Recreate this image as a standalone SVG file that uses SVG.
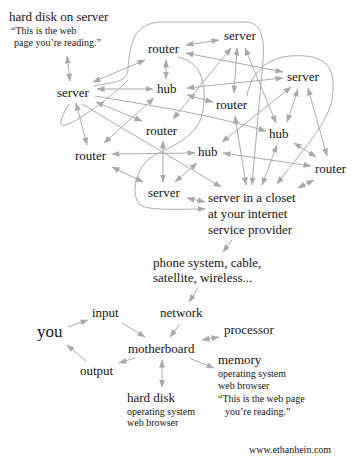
<svg xmlns="http://www.w3.org/2000/svg" width="362" height="467" viewBox="0 0 362 467">
<defs>
<marker id="ah" markerUnits="userSpaceOnUse" markerWidth="8" markerHeight="6" refX="7.5" refY="3" orient="auto-start-reverse"><path d="M0,0 L8,3 L0,6 z" fill="#a9a9a9"/></marker>
</defs>
<style>
text{font-family:"Liberation Serif","Times New Roman",serif;fill:#151515}
.n{font-size:13px}
.s{font-size:10px}
.b{font-size:17px}
.c path{fill:none;stroke:#ababab;stroke-width:1}
.d{marker-start:url(#ah);marker-end:url(#ah)}
.e{marker-end:url(#ah)}
</style>
<rect width="362" height="467" fill="#fff"/>
<g class="c" id="connectors">
<path class="d" d="M67,56 L70,81"/>
<path class="d" d="M93,82 L145,60"/>
<path class="d" d="M97,89 L153,89"/>
<path class="d" d="M166,60 L166,79"/>
<path class="d" d="M186,45 L219,40"/>
<path class="d" d="M186,53 L283,72"/>
<path class="d" d="M187,88 L283,78"/>
<path class="d" d="M187,95 L213,102"/>
<path class="d" d="M96,102 L142,121"/>
<path class="d" d="M76,103 L87,145"/>
<path class="d" d="M154,98 L104,143"/>
<path class="d" d="M231,48 L173,119"/>
<path class="d" d="M237,48 L234,93"/>
<path class="d" d="M245,48 L276,123"/>
<path class="d" d="M298,89 L287,122"/>
<path class="d" d="M308,88 L327,156"/>
<path class="d" d="M291,87 L222,142"/>
<path class="d" d="M235,116 L246,185"/>
<path class="d" d="M277,145 L262,185"/>
<path class="d" d="M294,143 L316,157"/>
<path class="d" d="M223,153 L311,166"/>
<path class="d" d="M298,188 L314,180"/>
<path class="d" d="M112,154 L195,153"/>
<path class="d" d="M163,141 L163,182"/>
<path class="d" d="M112,167 L143,182"/>
<path class="d" d="M175,182 L197,163"/>
<path class="d" d="M187,198 L205,202"/>
<path class="e" d="M82,104 L221,187"/>
<path class="e" d="M95,96 C140,104 200,112 266,131"/>
<path class="e" d="M94,86 C110,82 126,84 128,70 C130,40 135,24 160,22 L245,22 C260,22 265,35 263,60 L252,185"/>
<path d="M69,104 C60,118 58,128 66,125 C80,120 110,98 128,80"/>
<path class="e" d="M247,96 C250,75 265,58 290,56 C320,54 335,62 333,90 C332,120 310,140 277,184"/>
<path class="e" d="M178,57 C200,62 207,80 203,110 C200,135 175,145 155,155 C135,165 130,195 140,205 C150,211 180,209 205,209"/>
<path class="e" d="M232,240 L223,252"/>
<path class="e" d="M198,288 L189,302"/>
<path class="e" d="M68,327 L88,320"/>
<path class="e" d="M122,323 L145,337"/>
<path class="e" d="M180,324 L170,337"/>
<path class="d" d="M202,340 L219,337"/>
<path class="e" d="M189,358 L214,368"/>
<path class="e" d="M135,358 L119,363"/>
<path class="e" d="M86,361 L67,345"/>
<path class="d" d="M162,360 L162,387"/>
</g>
<g id="hd_server"><text class="n" x="9" y="21">hard disk on server</text><text class="s" x="11" y="34">“This is the web</text><text class="s" x="14" y="46">page you’re reading.”</text></g>
<g id="s1"><text class="n" x="57" y="97">server</text></g>
<g id="r1"><text class="n" x="148" y="53">router</text></g>
<g id="h1"><text class="n" x="157" y="93">hub</text></g>
<g id="s2"><text class="n" x="224" y="40">server</text></g>
<g id="s3"><text class="n" x="287" y="81">server</text></g>
<g id="r2"><text class="n" x="216" y="109">router</text></g>
<g id="r3"><text class="n" x="146" y="135">router</text></g>
<g id="r4"><text class="n" x="75" y="160">router</text></g>
<g id="h2"><text class="n" x="198" y="156">hub</text></g>
<g id="h3"><text class="n" x="269" y="138">hub</text></g>
<g id="r5"><text class="n" x="315" y="173">router</text></g>
<g id="s4"><text class="n" x="148" y="197">server</text></g>
<g id="isp"><text class="n" x="208" y="202">server in a closet</text><text class="n" x="208" y="218">at your internet</text><text class="n" x="208" y="234">service provider</text></g>
<g id="phone"><text class="n" x="153" y="267">phone system, cable,</text><text class="n" x="153" y="282">satellite, wireless...</text></g>
<g id="network"><text class="n" x="160" y="317">network</text></g>
<g id="input"><text class="n" x="92" y="317">input</text></g>
<g id="you"><text class="b" x="37" y="337">you</text></g>
<g id="motherboard"><text class="n" x="128" y="353">motherboard</text></g>
<g id="output"><text class="n" x="80" y="375">output</text></g>
<g id="processor"><text class="n" x="224" y="334">processor</text></g>
<g id="memory"><text class="n" x="218" y="364">memory</text><text class="s" x="218" y="377">operating system</text><text class="s" x="218" y="389">web browser</text><text class="s" x="218" y="402">“This is the web page</text><text class="s" x="225" y="415">you’re reading.”</text></g>
<g id="harddisk"><text class="n" x="127" y="402">hard disk</text><text class="s" x="127" y="415">operating system</text><text class="s" x="127" y="426">web browser</text></g>
<g id="credit"><text class="s" x="249" y="453">www.ethanhein.com</text></g>
</svg>
